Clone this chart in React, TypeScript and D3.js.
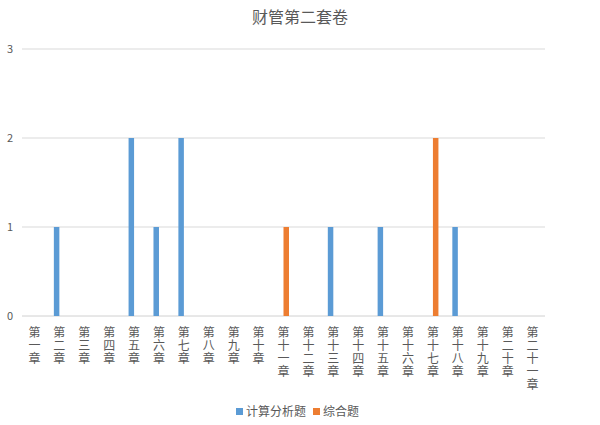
import React from "react";
import * as d3 from "d3";

const title = "财管第二套卷";
const chapters = [
  "第一章", "第二章", "第三章", "第四章", "第五章", "第六章", "第七章",
  "第八章", "第九章", "第十章", "第十一章", "第十二章", "第十三章", "第十四章",
  "第十五章", "第十六章", "第十七章", "第十八章", "第十九章", "第二十章", "第二十一章",
];
const seriesNames = ["计算分析题", "综合题"];
const seriesColors = ["#5b9bd5", "#ed7d31"];
const calcValues = [0, 1, 0, 0, 2, 1, 2, 0, 0, 0, 0, 0, 1, 0, 1, 0, 0, 1, 0, 0, 0];
const compValues = [0, 0, 0, 0, 0, 0, 0, 0, 0, 0, 1, 0, 0, 0, 0, 0, 2, 0, 0, 0, 0];
const yTicks = [0, 1, 2, 3];

const W = 600;
const H = 425;
const left = 22;
const right = 545;
const top = 49;
const bottom = 316;
const font = "'Noto Sans CJK SC', 'Noto Sans', sans-serif";

export default function App() {
  const x = d3.scaleBand<string>().domain(chapters).range([left, right]).paddingInner(0).paddingOuter(0);
  const sub = d3.scaleBand<string>().domain(seriesNames).range([-5.5, 5.5]);
  const y = d3.scaleLinear().domain([0, 3]).range([bottom, top]);
  const data = [calcValues, compValues];

  return (
    <svg width={W} height={H} style={{ position: "absolute", left: 0, top: 0, fontFamily: font }}>
      <rect width={W} height={H} fill="#fff" />
      <text x={W / 2} y={23} textAnchor="middle" fontSize={16} fill="#595959">{title}</text>
      {yTicks.map((t) => (
        <g key={t}>
          <line x1={left} x2={right} y1={y(t)} y2={y(t)} stroke={t === 0 ? "#d0d0d0" : "#d9d9d9"} strokeWidth={1} />
          <text x={10} y={y(t) + 4} textAnchor="middle" fontSize={11} fill="#595959">{t}</text>
        </g>
      ))}
      {data.map((vals, si) =>
        vals.map((v, i) =>
          v > 0 ? (
            <rect
              key={`${si}-${i}`}
              x={(x(chapters[i]) as number) + x.bandwidth() / 2 + (sub(seriesNames[si]) as number)}
              y={y(v)}
              width={sub.bandwidth()}
              height={y(0) - y(v)}
              fill={seriesColors[si]}
            />
          ) : null
        )
      )}
      {chapters.map((c) => {
        const cx = (x(c) as number) + x.bandwidth() / 2;
        return (
          <text key={c} fontSize={12} fill="#595959" textAnchor="middle">
            {Array.from(c).map((ch, k) => (
              <tspan key={k} x={cx} y={337 + k * 13}>{ch}</tspan>
            ))}
          </text>
        );
      })}
      <g>
        {seriesNames.map((n, i) => {
          const lx = i === 0 ? 236 : 313;
          return (
            <g key={n}>
              <rect x={lx} y={408} width={7} height={7} fill={seriesColors[i]} />
              <text x={lx + 10} y={416} fontSize={12} fill="#595959">{n}</text>
            </g>
          );
        })}
      </g>
    </svg>
  );
}
